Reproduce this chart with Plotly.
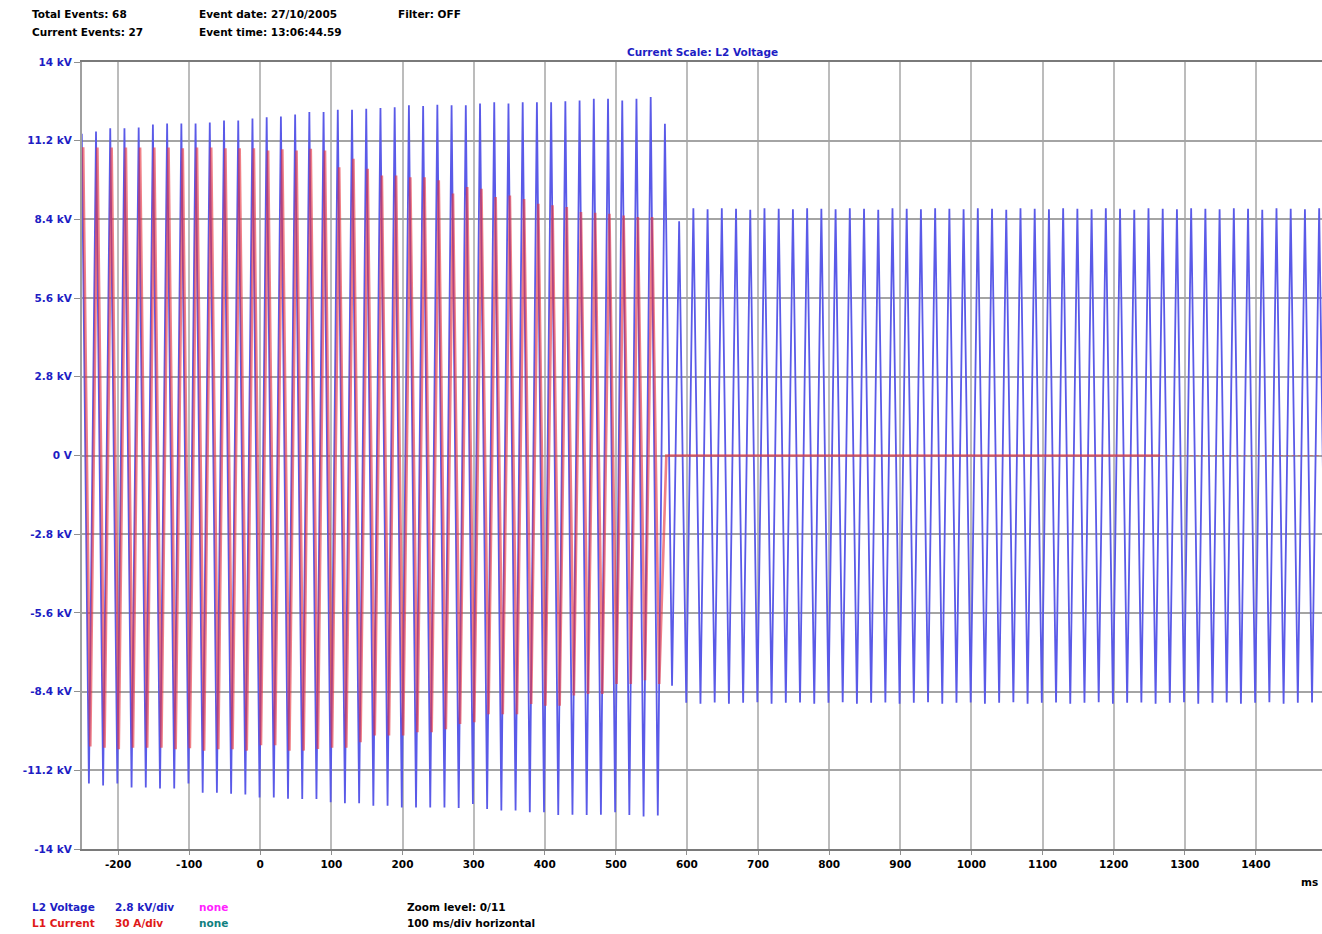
import plotly.graph_objects as go

# ---------------- data ----------------
PERIOD_MS = 20  # 50 Hz waveform; one positive and one negative peak per cycle

# L2 voltage, positive peaks (kV), first at t = -251 ms, one per cycle
V_POS_T0 = -251
v_pos_peaks = [
    11.45,
    11.53, 11.64, 11.64, 11.67, 11.78, 11.81, 11.81, 11.81, 11.85, 11.92, 11.92, 11.99, 12.03, 12.06, 12.13,
    12.22, 12.22, 12.30, 12.30, 12.34, 12.36, 12.39, 12.46, 12.43, 12.48, 12.46, 12.46, 12.52, 12.57, 12.52,
    12.57, 12.57, 12.57, 12.60, 12.63, 12.69, 12.69, 12.63, 12.69, 12.75, 11.80,
    8.33,
    8.80, 8.76, 8.80, 8.78, 8.74, 8.80, 8.78, 8.76, 8.80, 8.78, 8.76, 8.80, 8.78, 8.74, 8.80,
    8.78, 8.76, 8.80, 8.78, 8.76, 8.80, 8.78, 8.74, 8.80, 8.78, 8.76, 8.80, 8.78, 8.76, 8.80,
    8.78, 8.74, 8.80, 8.78, 8.76, 8.80, 8.78, 8.76, 8.80, 8.78, 8.74, 8.80, 8.78, 8.76, 8.80,
]
# L2 voltage, negative peaks (kV), first at t = -241 ms
V_NEG_T0 = -241
v_neg_peaks = [
    -11.67, -11.74, -11.67, -11.81, -11.81, -11.85, -11.85, -11.67, -12.00, -12.00, -12.03, -12.06, -12.17, -12.17, -12.21,
    -12.22, -12.22, -12.34, -12.37, -12.37, -12.46, -12.46, -12.52, -12.52, -12.52, -12.52, -12.54, -12.40,
    -12.58, -12.63, -12.63, -12.69, -12.69, -12.79, -12.78, -12.79, -12.78, -12.69, -12.79, -12.84, -12.81,
    -8.19,
    -8.80, -8.83, -8.79, -8.83, -8.80, -8.78, -8.83, -8.80, -8.79, -8.83, -8.80, -8.78, -8.83, -8.80, -8.79,
    -8.83, -8.80, -8.78, -8.83, -8.80, -8.79, -8.83, -8.80, -8.78, -8.83, -8.80, -8.79, -8.83, -8.80, -8.78,
    -8.83, -8.80, -8.79, -8.83, -8.80, -8.78, -8.83, -8.80, -8.79, -8.83, -8.80, -8.78, -8.83, -8.80, -8.79,
    -8.80,
]

# L1 current, positive peaks (A), first at t = -249 ms
I_POS_T0 = -249
i_pos_peaks = [
    117.5,
    117.4, 117.4, 117.4, 117.4, 117.4, 117.4, 117.1, 117.4, 117.4, 117.1, 117.1, 117.1, 116.3, 116.7, 116.3,
    116.9, 116.3, 109.9, 113.1, 109.3, 106.7, 106.7, 106.1, 106.1, 104.9, 99.9, 102.3, 101.7, 98.5, 99.1,
    97.8, 96.0, 95.4, 94.7, 92.8, 92.5, 92.1, 91.5, 90.9, 90.9,
]
# L1 current, negative peaks (A), first at t = -239 ms
I_NEG_T0 = -239
i_neg_peaks = [
    -110.9, -111.4, -112.0, -111.4, -111.4, -111.4, -112.0, -111.6, -112.5, -112.0, -112.0, -112.5, -110.4, -110.4, -112.5,
    -112.5, -111.9, -111.4, -111.4, -109.3, -106.7, -106.7, -106.7, -105.5, -105.5, -104.3, -102.3, -101.7,
    -98.6, -98.6, -98.6, -94.7, -95.4, -95.4, -91.5, -90.9, -90.9, -87.1, -87.1, -85.7, -87.1,
]
# after the breaker opens the current is zero
i_zero_times = [571, 1265]
i_zero_tail_times = [1265, 1493]

KV_PER_DIV = 2.8
A_PER_DIV = 30.0

x_ticks = [-200, -100, 0, 100, 200, 300, 400, 500, 600, 700, 800, 900, 1000, 1100, 1200, 1300, 1400]
x_ticktext = ["-200", "-100", "0", "100", "200", "300", "400", "500", "600", "700", "800",
              "900", "1000", "1100", "1200", "1300", "1400"]
y_ticks = [14, 11.2, 8.4, 5.6, 2.8, 0, -2.8, -5.6, -8.4, -11.2, -14]
y_ticktext = ["14 kV", "11.2 kV", "8.4 kV", "5.6 kV", "2.8 kV", "0 V",
              "-2.8 kV", "-5.6 kV", "-8.4 kV", "-11.2 kV", "-14 kV"]


def merge_peaks(t0_pos, pos, t0_neg, neg):
    pts = [(t0_pos + PERIOD_MS * k, v) for k, v in enumerate(pos)]
    pts += [(t0_neg + PERIOD_MS * k, v) for k, v in enumerate(neg)]
    pts.sort()
    return [p[0] for p in pts], [p[1] for p in pts]


vt, vv = merge_peaks(V_POS_T0, v_pos_peaks, V_NEG_T0, v_neg_peaks)
it, iv = merge_peaks(I_POS_T0, i_pos_peaks, I_NEG_T0, i_neg_peaks)
scale = KV_PER_DIV / A_PER_DIV
iv_scaled = [a * scale for a in iv]
it += i_zero_times
iv_scaled += [0.0 for _ in i_zero_times]

# ---------------- figure ----------------
W, H = 1322, 934
L, R, T, B = 82, 0, 62, 85
PW, PH = W - L - R, H - T - B

BLUE_TXT = "#1d1dc4"
FONT = "DejaVu Sans"
FS = 10.5

fig = go.Figure()
fig.add_trace(go.Scatter(x=vt, y=vv, mode="lines",
                         line=dict(color="#5a5ae8", width=1.8),
                         hoverinfo="skip", showlegend=False))
fig.add_trace(go.Scatter(x=it, y=iv_scaled, mode="lines",
                         line=dict(color="rgba(230,50,60,0.62)", width=2.6),
                         hoverinfo="skip", showlegend=False))
fig.add_trace(go.Scatter(x=i_zero_tail_times, y=[0, 0], mode="lines",
                         line=dict(color="rgba(220,70,70,0.45)", width=1.2, dash="dot"),
                         hoverinfo="skip", showlegend=False))


def px2paper(px, py):
    return (px - L) / PW, (H - B - py) / PH


def add_text(px, py, text, color="#000000", anchor="left", size=FS):
    x, y = px2paper(px, py)
    fig.add_annotation(x=x, y=y, xref="paper", yref="paper", text=text,
                       showarrow=False, xanchor=anchor, yanchor="middle",
                       font=dict(family=FONT, size=size, color=color, weight="bold"))


add_text(30, 14, "Total Events: 68")
add_text(30, 32, "Current Events: 27")
add_text(197, 14, "Event date: 27/10/2005")
add_text(197, 32, "Event time: 13:06:44.59")
add_text(396, 14, "Filter: OFF")
add_text(702, 52, "Current Scale: L2 Voltage", color=BLUE_TXT, anchor="center")

add_text(30, 907, "L2 Voltage", color=BLUE_TXT)
add_text(113, 907, "2.8 kV/div", color=BLUE_TXT)
add_text(197, 907, "none", color="#ff22ff")
add_text(30, 923, "L1 Current", color="#e01818")
add_text(113, 923, "30 A/div", color="#e01818")
add_text(197, 923, "none", color="#108080")
add_text(405, 907, "Zoom level: 0/11")
add_text(405, 923, "100 ms/div horizontal")
add_text(1320, 882, "ms", anchor="right")

fig.update_layout(
    width=W, height=H,
    margin=dict(l=L, r=R, t=T, b=B),
    paper_bgcolor="white", plot_bgcolor="white",
    showlegend=False,
    xaxis=dict(range=[-250.7, 1493], tickvals=x_ticks, ticktext=x_ticktext,
               showgrid=True, gridcolor="#bcbcbc", gridwidth=2,
               zeroline=False, showline=True, linecolor="#7a7a7a", linewidth=2, mirror=True,
               ticks="outside", ticklen=4, tickcolor="#909090", tickwidth=1,
               tickfont=dict(family=FONT, size=FS, color="#000000", weight="bold"),
               fixedrange=True),
    yaxis=dict(range=[-14, 14], tickvals=y_ticks, ticktext=y_ticktext,
               showgrid=True, gridcolor="#a4a4a4", gridwidth=1.5,
               zeroline=False, showline=True, linecolor="#a0a0a0", linewidth=2,
               ticks="outside", ticklen=6, tickcolor="#909090", tickwidth=1,
               tickfont=dict(family=FONT, size=FS, color=BLUE_TXT, weight="bold"),
               fixedrange=True),
)

fig.write_html("out.html",
               config={"displayModeBar": False},
               post_script="document.body.style.margin='0';document.body.style.overflow='hidden';")
